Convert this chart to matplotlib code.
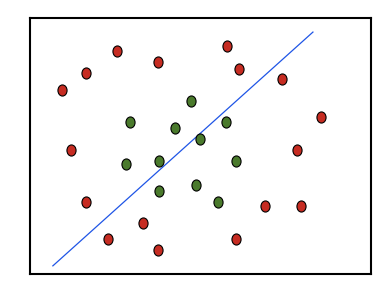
import numpy as np
import matplotlib
matplotlib.use("Agg")
import matplotlib.pyplot as plt
from matplotlib.path import Path
from matplotlib.transforms import Affine2D

# points on each side of the separating line
red_x = [0.94, 1.64, 2.55, 3.75, 5.78, 6.13, 7.39, 8.53, 1.20, 7.83,
         1.64, 2.29, 3.31, 3.75, 6.04, 6.89, 7.95]
red_y = [5.39, 5.89, 6.54, 6.21, 6.68, 6.01, 5.72, 4.61, 3.64, 3.64,
         2.12, 1.04, 1.51, 0.72, 1.04, 2.00, 2.00]

green_x = [2.93, 4.25, 4.72, 5.75, 4.99, 2.82, 3.78, 3.78, 4.87, 6.04, 5.51]
green_y = [4.46, 4.28, 5.07, 4.46, 3.96, 3.23, 3.32, 2.44, 2.62, 3.32, 2.12]

line_x = [0.67, 8.30]
line_y = [0.25, 7.09]

# slightly tall ellipse marker
ellipse = Affine2D().scale(0.82, 1.0).transform_path(Path.unit_circle())

fig = plt.figure(figsize=(3.9, 2.96), dpi=100)
ax = fig.add_axes([0.077, 0.073, 0.874, 0.866])

ax.plot(line_x, line_y, color='#1f55e6', linewidth=0.9)
ax.plot(red_x, red_y, linestyle='none', marker=ellipse, markersize=8,
        markerfacecolor='#c62c22', markeredgecolor='black', markeredgewidth=0.8)
ax.plot(green_x, green_y, linestyle='none', marker=ellipse, markersize=8,
        markerfacecolor='#4a7a2c', markeredgecolor='black', markeredgewidth=0.8)

ax.set_xlim(0, 10)
ax.set_ylim(0, 7.5)
ax.set_xticks([])
ax.set_yticks([])
for s in ax.spines.values():
    s.set_linewidth(1.5)

fig.savefig('out.png', dpi=100)
